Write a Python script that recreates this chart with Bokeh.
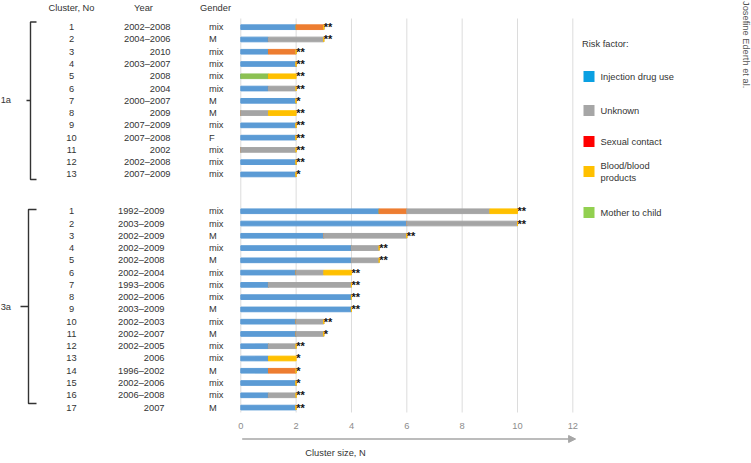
import math
from bokeh.plotting import figure
from bokeh.models import Range1d, ColumnDataSource, Arrow, NormalHead
from bokeh.core.properties import value
from bokeh.embed import file_html
from bokeh.resources import INLINE

# ---------------- data ----------------
factors = ["Injection drug use", "Mother to child", "Sexual contact", "Unknown", "Blood/blood products"]
bar_colors = ["#5B9BD5", "#8CC152", "#ED7D31", "#A5A5A5", "#FFC000"]

clusters_1a = [str(i) for i in range(1, 14)]
years_1a = ["2002\u20132008", "2004\u20132006", "2010", "2003\u20132007", "2008", "2004", "2000\u20132007",
            "2009", "2007\u20132009", "2007\u20132008", "2002", "2002\u20132008", "2007\u20132009"]
gender_1a = ["mix", "M", "mix", "mix", "mix", "mix", "M", "M", "mix", "F", "mix", "mix", "mix"]
idu_1a = [2, 1, 1, 2, 0, 1, 2, 0, 2, 2, 0, 2, 2]
mtc_1a = [0, 0, 0, 0, 1, 0, 0, 0, 0, 0, 0, 0, 0]
sex_1a = [1, 0, 1, 0, 0, 0, 0, 0, 0, 0, 0, 0, 0]
unk_1a = [0, 2, 0, 0, 0, 1, 0, 1, 0, 0, 2, 0, 0]
blood_1a = [0, 0, 0, 0, 1, 0, 0, 1, 0, 0, 0, 0, 0]
sig_1a = ["**", "**", "**", "**", "**", "**", "*", "**", "**", "**", "**", "**", "*"]

clusters_3a = [str(i) for i in range(1, 18)]
years_3a = ["1992\u20132009", "2003\u20132009", "2002\u20132009", "2002\u20132009", "2002\u20132008", "2002\u20132004",
            "1993\u20132006", "2002\u20132006", "2003\u20132009", "2002\u20132003", "2002\u20132007", "2002\u20132005",
            "2006", "1996\u20132002", "2002\u20132006", "2006\u20132008", "2007"]
gender_3a = ["mix", "mix", "M", "mix", "M", "mix", "mix", "mix", "M", "mix", "M", "mix", "mix", "M", "mix", "mix", "M"]
idu_3a = [5, 6, 3, 4, 4, 2, 1, 4, 4, 2, 2, 1, 1, 1, 2, 1, 2]
mtc_3a = [0] * 17
sex_3a = [1, 0, 0, 0, 0, 0, 0, 0, 0, 0, 0, 0, 0, 1, 0, 0, 0]
unk_3a = [3, 4, 3, 1, 1, 1, 3, 0, 0, 1, 1, 1, 0, 0, 0, 1, 0]
blood_3a = [1, 0, 0, 0, 0, 1, 0, 0, 0, 0, 0, 0, 1, 0, 0, 0, 0]
sig_3a = ["**", "**", "**", "**", "**", "**", "**", "**", "**", "**", "*", "**", "*", "*", "*", "**", "**"]

x_ticks = [0, 2, 4, 6, 8, 10, 12]

legend_labels = ["Injection drug use", "Unknown", "Sexual contact", "Blood/blood\nproducts", "Mother to child"]
legend_colors = ["#0AA0E2", "#A6A6A6", "#FF0000", "#FFC000", "#92D050"]

# ---------------- layout helpers (picture pixels -> data) ----------------
W, H = 751, 463
PX0, PXU = 240.3, 27.67
PY0, PYU = 26.7, 12.27
def X(px):
    return (px - PX0) / PXU
def Y(py):
    return (py - PY0) / PYU

FONT = value("Liberation Sans")
FS = "9.3px"
TXT = "#333333"

pos_1a = list(range(0, 13))
pos_3a = list(range(15, 32))
pos = pos_1a + pos_3a

src = ColumnDataSource(dict(
    y=pos,
    idu=idu_1a + idu_3a,
    mtc=mtc_1a + mtc_3a,
    sex=sex_1a + sex_3a,
    unk=unk_1a + unk_3a,
    blood=blood_1a + blood_3a,
))
stackers = ["idu", "mtc", "sex", "unk", "blood"]
totals = [a + b + c + d + e for a, b, c, d, e in zip(idu_1a + idu_3a, mtc_1a + mtc_3a, sex_1a + sex_3a,
                                                     unk_1a + unk_3a, blood_1a + blood_3a)]

p = figure(width=W, height=H, x_range=Range1d(X(0), X(W)), y_range=Range1d(Y(H), Y(0)),
           output_backend="svg", toolbar_location=None, min_border=0,
           x_axis_location=None, y_axis_location=None, outline_line_color=None)
p.grid.visible = False
p.background_fill_color = "white"

# vertical gridlines
p.segment(x0=x_ticks, y0=[Y(18)] * len(x_ticks), x1=x_ticks, y1=[Y(412)] * len(x_ticks),
          line_color="#DCDCDC", line_width=1)

# stacked bars
p.hbar_stack(stackers, y="y", height=0.38, color=bar_colors, source=src)

# significance marks
p.text(x=totals, y=pos, text=sig_1a + sig_3a, text_font=FONT, text_font_size="11px",
       text_font_style="bold", text_baseline="middle", text_align="left", text_color="#111111")

# table columns
p.text(x=[X(71)] * len(pos), y=pos, text=clusters_1a + clusters_3a, text_font=FONT, text_font_size=FS,
       text_align="center", text_baseline="middle", text_color=TXT)
p.text(x=[X(170)] * len(pos_1a), y=pos_1a, text=years_1a, text_font=FONT, text_font_size=FS,
       text_align="right", text_baseline="middle", text_color=TXT)
p.text(x=[X(164)] * len(pos_3a), y=pos_3a, text=years_3a, text_font=FONT, text_font_size=FS,
       text_align="right", text_baseline="middle", text_color=TXT)
p.text(x=[X(208.5)] * len(pos), y=pos, text=gender_1a + gender_3a, text_font=FONT, text_font_size=FS,
       text_align="left", text_baseline="middle", text_color=TXT)

# headers
p.text(x=[X(71), X(143), X(215)], y=[Y(7.5)] * 3, text=["Cluster, No", "Year", "Gender"],
       text_font=FONT, text_font_size=FS, text_align="center", text_baseline="middle", text_color=TXT)

# group labels and brackets
p.text(x=[X(10.5), X(10.5)], y=[Y(99), Y(306)], text=["1a", "3a"], text_font=FONT, text_font_size=FS,
       text_align="right", text_baseline="middle", text_color=TXT)
br_xs = [[X(36), X(30), X(30), X(36)], [X(26), X(30)],
         [X(36), X(28), X(28), X(36)], [X(20), X(28)]]
br_ys = [[Y(21.5), Y(21.5), Y(179), Y(179)], [Y(100), Y(100)],
         [Y(209), Y(209), Y(403), Y(403)], [Y(306), Y(306)]]
p.multi_line(xs=br_xs, ys=br_ys, line_color="#333333", line_width=1.4)

# x tick labels, arrow, axis title
p.text(x=x_ticks, y=[Y(425.5)] * len(x_ticks), text=[str(t) for t in x_ticks], text_font=FONT,
       text_font_size=FS, text_align="center", text_baseline="middle", text_color="#8C8C8C")
p.add_layout(Arrow(end=NormalHead(size=7, fill_color="#A6A6A6", line_color="#A6A6A6"),
                   x_start=x_ticks[0] + 0.05, y_start=Y(438.5), x_end=x_ticks[-1] + 0.1, y_end=Y(438.5),
                   line_color="#A6A6A6", line_width=1.5))
p.text(x=[X(335)], y=[Y(452)], text=["Cluster size, N"], text_font=FONT, text_font_size=FS,
       text_align="center", text_baseline="middle", text_color=TXT)

# legend
p.text(x=[X(581.5)], y=[Y(43.5)], text=["Risk factor:"], text_font=FONT, text_font_size=FS,
       text_align="left", text_baseline="middle", text_color=TXT)
leg_y = [76, 110, 141, 171, 212]
p.scatter(x=[X(588.5)] * len(leg_y), y=[Y(v) for v in leg_y], marker="square", size=11,
          fill_color=legend_colors, line_color=None)
p.text(x=[X(600)] * len(leg_y), y=[Y(v) for v in leg_y], text=legend_labels, text_font=FONT,
       text_font_size=FS, text_align="left", text_baseline="middle", text_color=TXT,
       text_line_height=1.2)

# rotated credit
p.text(x=[X(745)], y=[Y(0.5)], text=["Josefine Ederth et al."], angle=-math.pi / 2, text_font=FONT,
       text_font_size=FS, text_align="left", text_baseline="middle", text_color="#555555")

open("out.html", "w").write(file_html(p, INLINE))
